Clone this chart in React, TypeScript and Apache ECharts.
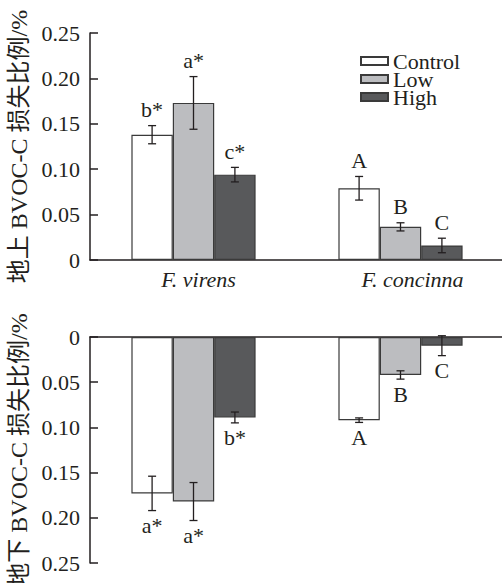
import React, { useEffect, useRef } from 'react';
import * as echarts from 'echarts';

const categories = ['F. virens', 'F. concinna'];
const seriesNames = ['Control', 'Low', 'High'];

// Above-ground (top panel)
const aboveControl = [0.138, 0.079];
const aboveLow = [0.173, 0.0365];
const aboveHigh = [0.094, 0.016];
const aboveControlErr = [0.01, 0.013];
const aboveLowErr = [0.029, 0.0045];
const aboveHighErr = [0.008, 0.008];
const aboveControlLetters = ['b*', 'A'];
const aboveLowLetters = ['a*', 'B'];
const aboveHighLetters = ['c*', 'C'];

// Below-ground (bottom panel)
const belowControl = [0.173, 0.092];
const belowLow = [0.182, 0.042];
const belowHigh = [0.089, 0.0096];
const belowControlErr = [0.019, 0.0025];
const belowLowErr = [0.021, 0.0046];
const belowHighErr = [0.006, 0.011];
const belowControlLetters = ['a*', 'A'];
const belowLowLetters = ['a*', 'B'];
const belowHighLetters = ['b*', 'C'];

const SERIF = '"Liberation Serif", "Times New Roman", "Noto Sans CJK SC", serif';
const INK = '#231f20';
const fills = ['#ffffff', '#bcbdc0', '#58595b'];
const BAR_RATIO = 0.2;
const FS = 22;

function buildErr(means: number[][], errs: number[][]) {
  const data: number[][] = [];
  means.forEach((m, g) => {
    m.forEach((v, c) => {
      data.push([c, v, errs[g][c], g]);
    });
  });
  return data;
}

function makeRender(letters: string[][], below: boolean) {
  return (params: any, api: any) => {
    const cat = api.value(0);
    const mean = api.value(1);
    const err = api.value(2);
    const g = api.value(3);
    const band = api.size([1, 0])[0];
    const bw = band * BAR_RATIO;
    const c = api.coord([cat, mean]);
    const x = c[0] + (g - 1) * bw;
    const y1 = api.coord([cat, mean + err])[1];
    const y2 = api.coord([cat, mean - err])[1];
    const yMin = Math.min(y1, y2);
    const yMax = Math.max(y1, y2);
    const cap = 4;
    const ls = { stroke: INK, lineWidth: 1.3 };
    const letter = letters[g][cat];
    return {
      type: 'group',
      children: [
        { type: 'line', shape: { x1: x, y1: yMin, x2: x, y2: yMax }, style: ls },
        { type: 'line', shape: { x1: x - cap, y1: yMin, x2: x + cap, y2: yMin }, style: ls },
        { type: 'line', shape: { x1: x - cap, y1: yMax, x2: x + cap, y2: yMax }, style: ls },
        {
          type: 'text',
          x: x,
          y: below ? yMax + 4 : yMin - 5,
          style: {
            text: letter,
            fill: INK,
            fontSize: FS,
            fontFamily: SERIF,
            align: 'center',
            verticalAlign: below ? 'top' : 'bottom',
          },
        },
      ],
    };
  };
}

export default function App() {
  const ref = useRef<HTMLDivElement>(null);
  useEffect(() => {
    const chart = echarts.init(ref.current!, null, { renderer: 'svg' });
    const axisLine = { show: true, lineStyle: { color: INK, width: 1.5 } };
    const yAxisCommon = {
      type: 'value',
      min: 0,
      max: 0.25,
      interval: 0.05,
      axisLine,
      axisTick: { show: true, inside: true, length: 8, lineStyle: { color: INK, width: 1.5 } },
      splitLine: { show: false },
      axisLabel: {
        color: INK,
        fontSize: FS,
        fontFamily: SERIF,
        margin: 10,
        formatter: (v: number) => (v === 0 ? '0' : v.toFixed(2)),
      },
      nameLocation: 'middle',
      nameRotate: 90,
      nameGap: 57,
      nameTextStyle: { color: INK, fontSize: 24, fontFamily: SERIF },
    };
    const aboveMeans = [aboveControl, aboveLow, aboveHigh];
    const belowMeans = [belowControl, belowLow, belowHigh];
    const barSeries: any[] = [];
    seriesNames.forEach((name, i) => {
      barSeries.push({
        type: 'bar',
        name,
        xAxisIndex: 0,
        yAxisIndex: 0,
        data: aboveMeans[i],
        barWidth: BAR_RATIO * 100 + '%',
        barGap: '0%',
        itemStyle: { color: fills[i], borderColor: '#3a3a3a', borderWidth: 1.2 },
      });
    });
    seriesNames.forEach((name, i) => {
      barSeries.push({
        type: 'bar',
        name,
        xAxisIndex: 1,
        yAxisIndex: 1,
        data: belowMeans[i],
        barWidth: BAR_RATIO * 100 + '%',
        barGap: '0%',
        itemStyle: { color: fills[i], borderColor: '#3a3a3a', borderWidth: 1.2 },
      });
    });
    chart.setOption({
      animation: false,
      backgroundColor: '#ffffff',
      legend: {
        data: seriesNames,
        orient: 'vertical',
        left: 355,
        top: 45,
        icon: 'rect',
        itemWidth: 27,
        itemHeight: 8,
        itemGap: -4,
        textStyle: { color: INK, fontSize: FS, fontFamily: SERIF },
      },
      grid: [
        { left: 90, top: 33, width: 414, height: 227, outerBoundsMode: 'none', containLabel: false },
        { left: 90, top: 337, width: 414, height: 226, outerBoundsMode: 'none', containLabel: false },
      ],
      xAxis: [
        {
          type: 'category',
          gridIndex: 0,
          data: categories,
          axisLine,
          axisTick: { show: true, inside: true, length: 7, alignWithLabel: true, lineStyle: { color: INK, width: 1.5 } },
          axisLabel: {
            color: INK,
            fontSize: FS,
            fontFamily: SERIF,
            fontStyle: 'italic',
            margin: 8,
            formatter: (v: string, i: number) => (i === 0 ? `{a|${v}}` : `{b|${v}}`),
            rich: {
              a: { fontSize: FS, fontFamily: SERIF, fontStyle: 'italic', color: INK, padding: [0, 0, 0, 10] },
              b: { fontSize: FS, fontFamily: SERIF, fontStyle: 'italic', color: INK, padding: [0, 0, 0, 24] },
            },
          },
        },
        {
          type: 'category',
          gridIndex: 1,
          position: 'top',
          data: categories,
          axisLine,
          axisTick: { show: true, inside: true, length: 8, alignWithLabel: true, lineStyle: { color: INK, width: 1.5 } },
          axisLabel: { show: false },
        },
      ],
      yAxis: [
        { ...yAxisCommon, gridIndex: 0, name: '地上 BVOC-C 损失比例/%' },
        { ...yAxisCommon, gridIndex: 1, inverse: true, name: '地下 BVOC-C 损失比例/%' },
      ],
      series: [
        ...barSeries,
        {
          type: 'custom',
          xAxisIndex: 0,
          yAxisIndex: 0,
          z: 10,
          data: buildErr(aboveMeans, [aboveControlErr, aboveLowErr, aboveHighErr]),
          renderItem: makeRender([aboveControlLetters, aboveLowLetters, aboveHighLetters], false),
        },
        {
          type: 'custom',
          xAxisIndex: 1,
          yAxisIndex: 1,
          z: 10,
          data: buildErr(belowMeans, [belowControlErr, belowLowErr, belowHighErr]),
          renderItem: makeRender([belowControlLetters, belowLowLetters, belowHighLetters], true),
        },
      ],
    });
    return () => chart.dispose();
  }, []);
  return <div ref={ref} style={{ position: 'absolute', left: 0, top: 0, width: 502, height: 583 }} />;
}
